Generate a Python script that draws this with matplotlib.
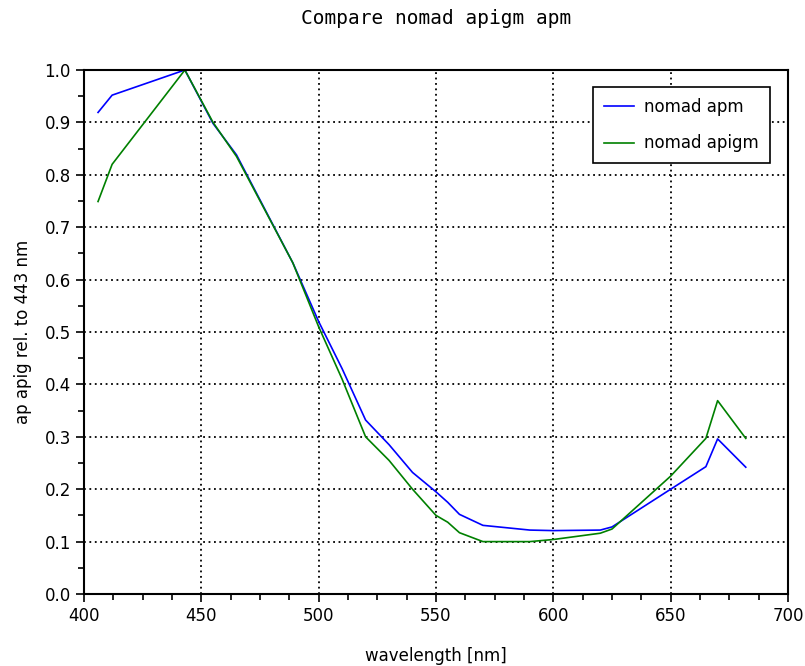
import numpy as np
import matplotlib.pyplot as plt
from matplotlib.ticker import MultipleLocator

# values
wavelength = [406, 412, 443, 455, 465, 489, 500, 510, 520, 530, 540, 550, 555,
              560, 570, 590, 600, 620, 625, 650, 665, 670, 682]
nomad_apm = [0.919, 0.952, 1.0, 0.898, 0.838, 0.632, 0.52, 0.43, 0.332, 0.285,
             0.232, 0.195, 0.175, 0.152, 0.131, 0.122, 0.121, 0.122, 0.128,
             0.200, 0.243, 0.296, 0.242]
nomad_apigm = [0.749, 0.82, 1.0, 0.9, 0.835, 0.632, 0.51, 0.41, 0.300, 0.255,
               0.200, 0.150, 0.137, 0.117, 0.100, 0.100, 0.104, 0.116, 0.124,
               0.225, 0.297, 0.369, 0.297]

fig = plt.figure(figsize=(8.05, 6.66), dpi=100)
ax = fig.add_axes([0.1043, 0.1081, 0.8746, 0.7868])

ax.plot(wavelength, nomad_apm, color='#0000ff', lw=1.2, label='nomad apm')
ax.plot(wavelength, nomad_apigm, color='#008000', lw=1.2, label='nomad apigm')

ax.set_xlim(400, 700)
ax.set_ylim(0, 1)
ax.xaxis.set_major_locator(MultipleLocator(50))
ax.xaxis.set_minor_locator(MultipleLocator(12.5))
ax.yaxis.set_major_locator(MultipleLocator(0.1))
ax.yaxis.set_minor_locator(MultipleLocator(0.05))
ax.yaxis.set_major_formatter(lambda v, p: '%.1f' % v)
ax.tick_params(which='major', direction='out', length=6, width=1.2, labelsize=12)
ax.tick_params(which='minor', direction='out', length=4, width=1.2)
ax.grid(True, which='major', color='black', linestyle=(0, (1, 2)), lw=1.3)
for s in ax.spines.values():
    s.set_linewidth(1.5)

ax.set_xlabel('wavelength [nm]', fontsize=12, labelpad=16)
ax.set_ylabel('ap apig rel. to 443 nm', fontsize=12, labelpad=9)
ax.set_title('Compare nomad apigm apm', fontsize=14, family='DejaVu Sans Mono', pad=33)

leg = ax.legend(loc='upper right', fontsize=12, fancybox=False, framealpha=1,
                edgecolor='black', handlelength=1.8, borderpad=0.65,
                labelspacing=1.1, handletextpad=0.6, bbox_to_anchor=(0.986, 0.983))
leg.get_frame().set_linewidth(1.2)

plt.savefig('out.png')
